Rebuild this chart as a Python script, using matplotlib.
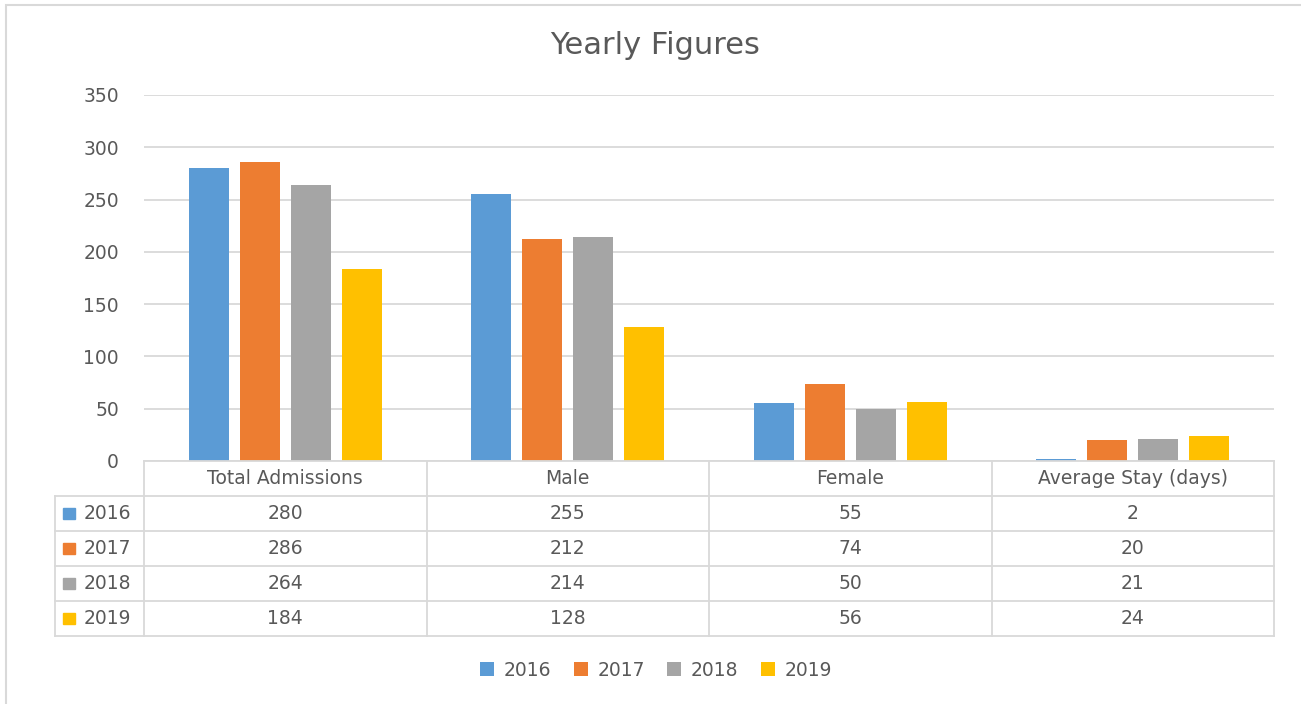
import matplotlib
matplotlib.use("Agg")
import matplotlib.pyplot as plt
from matplotlib.patches import Rectangle

categories = ["Total Admissions", "Male", "Female", "Average Stay (days)"]
years = ["2016", "2017", "2018", "2019"]
v2016 = [280, 255, 55, 2]
v2017 = [286, 212, 74, 20]
v2018 = [264, 214, 50, 21]
v2019 = [184, 128, 56, 24]
yticks = [0, 50, 100, 150, 200, 250, 300, 350]
title = "Yearly Figures"

series = [v2016, v2017, v2018, v2019]
colors = ["#5B9BD5", "#ED7D31", "#A5A5A5", "#FFC000"]
text_color = "#595959"
grid_color = "#D9D9D9"

plt.rcParams['font.family'] = ['DejaVu Sans']

W, H = 1301, 704
fig = plt.figure(figsize=(W / 100, H / 100), dpi=100)

def px_rect(x0, y0, x1, y1):
    return [x0 / W, 1 - y1 / H, (x1 - x0) / W, (y1 - y0) / H]

# outer chart border
fig.patches.append(Rectangle((6 / W, -0.05), 1.1, 1 - 5 / H + 0.05,
                             transform=fig.transFigure, fill=False,
                             edgecolor=grid_color, linewidth=1.5))

ax = fig.add_axes(px_rect(144, 95, 1274, 461))
n = len(categories)
xs = list(range(n))
bw = 40 / 282.5
step = 51 / 282.5
for i, (vals, col, yr) in enumerate(zip(series, colors, years)):
    off = (i - 1.5) * step
    ax.bar([x + off for x in xs], vals, width=bw, color=col, label=yr, zorder=3)

ax.set_xlim(-0.5, n - 0.5)
ax.set_ylim(0, 350)
ax.set_yticks(yticks)
ax.set_yticklabels([str(t) for t in yticks])
ax.set_xticks([])
ax.tick_params(axis='y', length=0, pad=18, labelsize=13.5, labelcolor=text_color)
ax.grid(axis='y', color=grid_color, linewidth=1.3, zorder=0)
for s in ax.spines.values():
    s.set_visible(False)

fig.text(655 / W, 1 - 54 / H, title, ha='center', va='baseline',
         fontsize=22, color=text_color)

# data table
tax = fig.add_axes(px_rect(144, 461, 1274, 636))
tax.set_xlim(-0.5, n - 0.5)
tax.set_ylim(5, 0)
tax.axis('off')
left = -0.5 - 89 / 282.5
lw = 1.3
tax.plot([-0.5, n - 0.5], [0, 0], color=grid_color, lw=lw, clip_on=False)
for r in range(1, 6):
    tax.plot([left, n - 0.5], [r, r], color=grid_color, lw=lw, clip_on=False)
tax.plot([left, left], [1, 5], color=grid_color, lw=lw, clip_on=False)
for c in range(n + 1):
    tax.plot([c - 0.5, c - 0.5], [0, 5], color=grid_color, lw=lw, clip_on=False)

fs = 13.5
for c, cat in enumerate(categories):
    tax.text(c, 0.5, cat, ha='center', va='center', fontsize=fs,
             color=text_color, clip_on=False)
for r, (vals, col, yr) in enumerate(zip(series, colors, years)):
    y = r + 1.5
    tax.add_patch(Rectangle((left + 8 / 282.5, y - 0.17), 12 / 282.5, 0.34,
                            color=col, clip_on=False))
    tax.text(left + 29 / 282.5, y, yr, ha='left', va='center', fontsize=fs,
             color=text_color, clip_on=False)
    for c, v in enumerate(vals):
        tax.text(c, y, str(v), ha='center', va='center', fontsize=fs,
                 color=text_color, clip_on=False)

handles, labels = ax.get_legend_handles_labels()
fig.legend(handles, labels, loc='center', bbox_to_anchor=(656 / W, 1 - 670 / H),
           ncol=4, frameon=False, fontsize=fs, labelcolor=text_color,
           handlelength=0.75, handleheight=0.75, handletextpad=0.5,
           columnspacing=1.2)

fig.savefig("out.png", dpi=100)
